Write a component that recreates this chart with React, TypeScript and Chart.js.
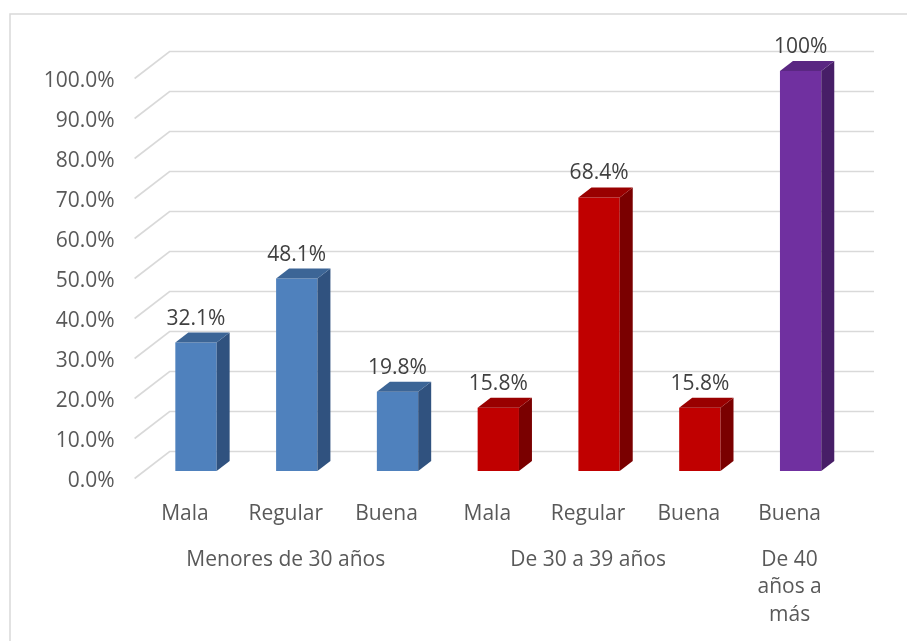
import React, { useEffect, useRef } from "react";
import { Chart, registerables } from "chart.js";

Chart.register(...registerables);

// ---- data ----
const categories: string[] = ["Mala", "Regular", "Buena", "Mala", "Regular", "Buena", "Buena"];
const groupTickLabels: (string | string[])[] = [
  "",
  "Menores de 30 años",
  "",
  "",
  "De 30 a 39 años",
  "",
  ["De 40", "años a", "más"],
];
const values: number[] = [32.1, 48.1, 19.8, 15.8, 68.4, 15.8, 100];
const yMin = 0;
const yMax = 100;
const yStep = 10;

// ---- styles ----
const frontColors = ["#4F81BD", "#4F81BD", "#4F81BD", "#C00000", "#C00000", "#C00000", "#7030A0"];
const sideColors = ["#30527F", "#30527F", "#30527F", "#7A0000", "#7A0000", "#7A0000", "#471E67"];
const topColors = ["#3C6596", "#3C6596", "#3C6596", "#990000", "#990000", "#990000", "#5A2782"];

const FONT = "'Open Sans', sans-serif";
const AXIS_COLOR = "#595959";
const LABEL_COLOR = "#404040";
const GRID_COLOR = "#D9D9D9";

const DEPTH_X = 13;
const DEPTH_Y = 10;

const fmtLabel = (v: number) => (v === 100 ? "100%" : v.toFixed(1) + "%");

const threeDPlugin = {
  id: "threeD",
  beforeDraw(chart: any) {
    const ctx = chart.ctx;
    ctx.save();
    ctx.fillStyle = "#FFFFFF";
    ctx.fillRect(0, 0, chart.width, chart.height);
    ctx.strokeStyle = GRID_COLOR;
    ctx.lineWidth = 1.5;
    ctx.strokeRect(10, 14, chart.width + 20, chart.height + 20);
    ctx.restore();
  },
  beforeDatasetsDraw(chart: any) {
    const ctx = chart.ctx;
    const ys = chart.scales.y;
    const { left, right } = chart.chartArea;
    ctx.save();
    ctx.strokeStyle = GRID_COLOR;
    ctx.lineWidth = 1.6;
    ys.ticks.forEach((t: any) => {
      const p = ys.getPixelForValue(t.value);
      const by = p - 19.5;
      ctx.beginPath();
      ctx.moveTo(left - 11, p + 7.5);
      ctx.lineTo(left + 24, by);
      ctx.lineTo(right + 23, by);
      ctx.stroke();
    });
    ctx.restore();
  },
  afterDatasetsDraw(chart: any) {
    const ctx = chart.ctx;
    const meta = chart.getDatasetMeta(0);
    ctx.save();
    meta.data.forEach((bar: any, i: number) => {
      const { x, y, base, width } = bar.getProps(["x", "y", "base", "width"], true);
      const l = x - width / 2;
      const r = x + width / 2;
      // side face
      ctx.fillStyle = sideColors[i];
      ctx.beginPath();
      ctx.moveTo(r, y);
      ctx.lineTo(r + DEPTH_X, y - DEPTH_Y);
      ctx.lineTo(r + DEPTH_X, base - DEPTH_Y);
      ctx.lineTo(r, base);
      ctx.closePath();
      ctx.fill();
      // top face
      ctx.fillStyle = topColors[i];
      ctx.beginPath();
      ctx.moveTo(l, y);
      ctx.lineTo(l + DEPTH_X, y - DEPTH_Y);
      ctx.lineTo(r + DEPTH_X, y - DEPTH_Y);
      ctx.lineTo(r, y);
      ctx.closePath();
      ctx.fill();
      // data label
      ctx.fillStyle = LABEL_COLOR;
      ctx.font = `21px ${FONT}`;
      ctx.textAlign = "center";
      ctx.textBaseline = "middle";
      ctx.fillText(fmtLabel(values[i]), x, y - 24);
    });
    ctx.restore();
  },
};

export default function App() {
  const ref = useRef<HTMLCanvasElement | null>(null);

  useEffect(() => {
    document.body.style.margin = "0";
    if (!ref.current) return;
    const chart = new Chart(ref.current, {
      type: "bar",
      data: {
        labels: categories,
        datasets: [
          {
            data: values,
            backgroundColor: frontColors,
            borderWidth: 0,
            barPercentage: 0.41,
            categoryPercentage: 1,
            xAxisID: "x",
            yAxisID: "y",
          },
        ],
      },
      options: {
        responsive: false,
        animation: false,
        events: [],
        layout: { padding: { top: 71, right: 56, bottom: 0, left: 0 } },
        plugins: {
          legend: { display: false },
          tooltip: { enabled: false },
          title: { display: false },
        },
        scales: {
          x: {
            type: "category",
            position: "bottom",
            offset: true,
            grid: { display: false, drawTicks: false },
            border: { display: false },
            ticks: {
              autoSkip: false,
              maxRotation: 0,
              minRotation: 0,
              padding: 29,
              labelOffset: -11,
              color: AXIS_COLOR,
              font: { family: FONT, size: 21, lineHeight: 1.3 },
            },
            afterFit(scale: any) {
              scale.height = 58;
            },
          },
          x2: {
            type: "category",
            position: "bottom",
            labels: groupTickLabels as any,
            offset: true,
            grid: { display: false, drawTicks: false },
            border: { display: false },
            ticks: {
              autoSkip: false,
              maxRotation: 0,
              minRotation: 0,
              padding: 17,
              labelOffset: -11,
              color: AXIS_COLOR,
              font: { family: FONT, size: 21, lineHeight: 1.31 },
            },
            afterFit(scale: any) {
              scale.height = 112;
            },
          },
          y: {
            min: yMin,
            max: yMax,
            grid: { display: false, drawTicks: false },
            border: { display: false },
            ticks: {
              stepSize: yStep,
              padding: 31,
              labelOffset: 10,
              color: AXIS_COLOR,
              font: { family: FONT, size: 21 },
              callback: (v: any) => Number(v).toFixed(1) + "%",
            },
            afterFit(scale: any) {
              scale.width = 145.6;
            },
          },
        },
      } as any,
      plugins: [threeDPlugin],
    });
    return () => chart.destroy();
  }, []);

  return <canvas ref={ref} width={907} height={641} style={{ display: "block" }} />;
}
